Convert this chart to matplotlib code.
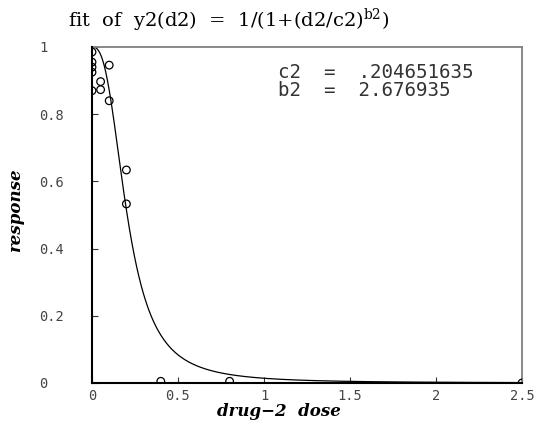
import numpy as np
import matplotlib
matplotlib.use("Agg")
import matplotlib.pyplot as plt

# observed data
dose = [0, 0, 0, 0, 0, 0.05, 0.05, 0.1, 0.1, 0.2, 0.2, 0.4, 0.8, 2.5]
response = [0.985, 0.955, 0.94, 0.925, 0.87, 0.897, 0.873, 0.946, 0.84,
            0.634, 0.533, 0.005, 0.005, 0.0]

# fitted parameters (shown on chart)
c2 = 0.204651635
b2 = 2.676935

x_ticks = [0, 0.5, 1, 1.5, 2, 2.5]
x_tick_labels = ["0", "0.5", "1", "1.5", "2", "2.5"]
y_ticks = [0, 0.2, 0.4, 0.6, 0.8, 1]
y_tick_labels = ["0", "0.2", "0.4", "0.6", "0.8", "1"]

W, H = 542, 425
fig = plt.figure(figsize=(W / 100, H / 100), dpi=100)
ax = fig.add_axes([92 / W, 1 - 383 / H, (522 - 92) / W, (383 - 47) / H])

xs = np.linspace(0, 2.5, 600)
ax.plot(xs, 1 / (1 + (xs / c2) ** b2), color="black", lw=0.9)
pts = ax.scatter(dose, response, s=5.5 ** 2, marker="o", facecolors="none",
                 edgecolors="black", linewidths=0.9, zorder=3)
pts.set_clip_path(ax.patch)

ax.set_xlim(0, 2.5)
ax.set_ylim(0, 1)
ax.set_xticks(x_ticks)
ax.set_xticklabels(x_tick_labels)
ax.set_yticks(y_ticks)
ax.set_yticklabels(y_tick_labels)

for s in ["left", "bottom"]:
    ax.spines[s].set_color("black")
    ax.spines[s].set_linewidth(1.5)
    ax.spines[s].set_zorder(4)
for s in ["top", "right"]:
    ax.spines[s].set_color("#808080")
    ax.spines[s].set_linewidth(1.3)

ax.tick_params(axis="both", direction="in", length=4.5, width=0.8,
               labelsize=9.8, labelcolor="#444444", color="#333333")
ax.tick_params(axis="x", pad=4)
ax.tick_params(axis="y", pad=38)
for lab in ax.get_yticklabels() + ax.get_xticklabels():
    lab.set_family("DejaVu Sans Mono")
for lab in ax.get_yticklabels():
    lab.set_horizontalalignment("left")

plt.rcParams["mathtext.fontset"] = "dejavuserif"
fig.text(68 / W, 1 - 20 / H,
         r"fit  of  y2(d2)  =  1/(1+(d2/c2)$^{\mathrm{b2}}$)",
         family="DejaVu Serif", fontsize=14, ha="left", va="center")

fig.text(279 / W, 1 - 412 / H, "drug\u22122  dose", family="DejaVu Serif",
         style="italic", weight="bold", fontsize=12, ha="center", va="center")
fig.text(16 / W, 1 - 210 / H, "response", family="DejaVu Serif",
         style="italic", weight="bold", fontsize=12, ha="center", va="center",
         rotation=90)

fig.text(278 / W, 1 - 73 / H, "c2  =  .204651635", family="DejaVu Sans Mono",
         fontsize=13.8, ha="left", va="center", color="#333333")
fig.text(278 / W, 1 - 91 / H, "b2  =  2.676935", family="DejaVu Sans Mono",
         fontsize=13.8, ha="left", va="center", color="#333333")

fig.savefig("out.png", dpi=100)
